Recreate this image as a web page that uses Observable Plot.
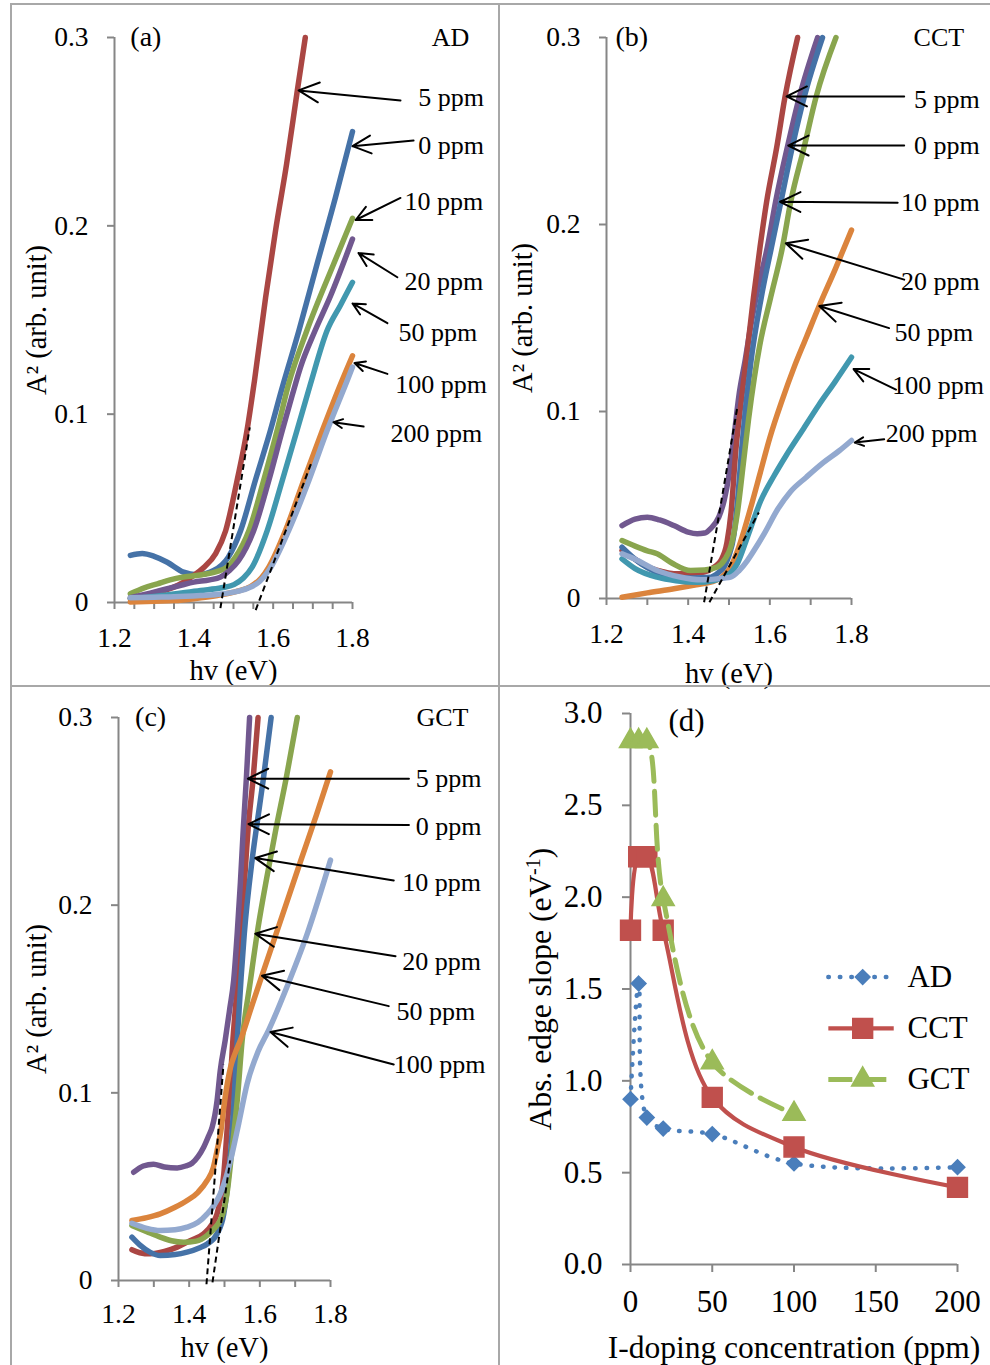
<!DOCTYPE html>
<html><head><meta charset="utf-8">
<script src="https://cdn.jsdelivr.net/npm/d3@7"></script>
<script src="https://cdn.jsdelivr.net/npm/@observablehq/plot@0.6"></script>
<style>
body{margin:0;background:#fff}
#fig{position:relative;width:990px;height:1365px;background:#fff;overflow:hidden}
#fig svg{position:absolute;overflow:visible}
.bl{position:absolute;background:#a8a8a8;z-index:5}
</style></head><body>
<div id="fig">
 <div class="bl" style="left:10px;top:3px;width:980px;height:2px"></div>
 <div class="bl" style="left:10px;top:3px;width:2px;height:1362px"></div>
 <div class="bl" style="left:498px;top:3px;width:2px;height:1362px"></div>
 <div class="bl" style="left:10px;top:685px;width:980px;height:2px"></div>
</div>
<script>
// ---------------- Panel (a) AD : [hv (eV), A^2] ----------------
const AD_0ppm   = [[1.24,.025],[1.27,.026],[1.30,.0245],[1.333,.0214],[1.374,.0161],[1.408,.0147],[1.45,.017],[1.487,.0241],[1.518,.0382],[1.555,.0648],[1.593,.0913],[1.62,.112],[1.665,.1444],[1.711,.180],[1.757,.215],[1.80,.250]];
const AD_5ppm   = [[1.24,.002],[1.28,.0035],[1.32,.006],[1.36,.0092],[1.392,.0133],[1.425,.0186],[1.455,.026],[1.48,.038],[1.509,.0648],[1.534,.0913],[1.553,.118],[1.581,.162],[1.606,.1975],[1.634,.233],[1.661,.272],[1.681,.300]];
const AD_10ppm  = [[1.24,.0046],[1.275,.0078],[1.308,.0099],[1.34,.012],[1.374,.0135],[1.42,.0147],[1.459,.0165],[1.485,.019],[1.505,.0241],[1.539,.0382],[1.576,.0648],[1.61,.0913],[1.639,.116],[1.685,.1444],[1.753,.180],[1.80,.204]];
const AD_20ppm  = [[1.24,.0025],[1.29,.005],[1.333,.0073],[1.37,.0093],[1.40,.0108],[1.44,.012],[1.467,.0135],[1.49,.017],[1.513,.0223],[1.551,.0382],[1.589,.0648],[1.623,.0913],[1.648,.110],[1.669,.125],[1.705,.144],[1.745,.163],[1.80,.193]];
const AD_50ppm  = [[1.24,.002],[1.32,.0037],[1.417,.0064],[1.47,.0078],[1.501,.0095],[1.525,.013],[1.547,.0188],[1.585,.0382],[1.623,.0648],[1.66,.0913],[1.694,.116],[1.736,.1444],[1.77,.158],[1.80,.170]];
const AD_100ppm = [[1.24,.0003],[1.30,.0007],[1.35,.001],[1.40,.002],[1.459,.0037],[1.51,.006],[1.543,.0085],[1.57,.013],[1.589,.0188],[1.631,.0382],[1.677,.0648],[1.724,.0913],[1.77,.116],[1.80,.131]];
const AD_200ppm = [[1.24,.0025],[1.30,.0028],[1.35,.003],[1.417,.0037],[1.47,.0045],[1.50,.0055],[1.535,.0075],[1.565,.011],[1.589,.017],[1.639,.0382],[1.69,.0648],[1.736,.0913],[1.787,.118],[1.80,.125]];
const AD_tangents = [[[1.467,-.003],[1.541,.093]],[[1.556,-.004],[1.696,.074]]];

// ---------------- Panel (b) CCT ----------------
const CCT_0ppm   = [[1.238,.039],[1.27,.0425],[1.30,.0435],[1.33,.042],[1.365,.039],[1.40,.0355],[1.422,.0346],[1.44,.035],[1.455,.0374],[1.475,.0435],[1.488,.0524],[1.50,.066],[1.512,.086],[1.524,.108],[1.54,.128],[1.555,.148],[1.57,.165],[1.594,.1879],[1.614,.212],[1.643,.2414],[1.672,.268],[1.717,.300]];
const CCT_5ppm   = [[1.238,.0257],[1.27,.021],[1.30,.017],[1.335,.0145],[1.365,.0132],[1.40,.0132],[1.439,.0141],[1.465,.017],[1.48,.0203],[1.495,.030],[1.505,.046],[1.517,.080],[1.528,.102],[1.541,.1255],[1.56,.161],[1.576,.1879],[1.592,.212],[1.617,.2414],[1.637,.268],[1.668,.300]];
const CCT_10ppm  = [[1.238,.0274],[1.27,.021],[1.30,.0165],[1.335,.013],[1.365,.0114],[1.41,.011],[1.455,.0114],[1.475,.014],[1.488,.0168],[1.50,.023],[1.512,.034],[1.522,.055],[1.531,.08],[1.553,.1255],[1.579,.161],[1.604,.1879],[1.627,.212],[1.655,.2414],[1.684,.268],[1.729,.300]];
const CCT_20ppm  = [[1.238,.031],[1.27,.028],[1.30,.0255],[1.324,.0239],[1.36,.019],[1.406,.015],[1.44,.0152],[1.471,.0168],[1.49,.021],[1.504,.0274],[1.52,.045],[1.535,.072],[1.548,.096],[1.562,.118],[1.575,.135],[1.602,.161],[1.631,.1879],[1.651,.212],[1.684,.2414],[1.713,.268],[1.762,.300]];
const CCT_50ppm  = [[1.238,.0007],[1.30,.003],[1.365,.0052],[1.42,.0073],[1.455,.0087],[1.48,.011],[1.504,.0168],[1.52,.025],[1.537,.0364],[1.555,.050],[1.575,.066],[1.60,.086],[1.63,.106],[1.66,.124],[1.69,.140],[1.72,.156],[1.76,.176],[1.80,.197]];
const CCT_100ppm = [[1.238,.0212],[1.27,.016],[1.324,.0114],[1.37,.0095],[1.422,.0087],[1.46,.0095],[1.488,.0114],[1.505,.014],[1.52,.0185],[1.545,.0328],[1.578,.0524],[1.61,.0655],[1.64,.0765],[1.68,.090],[1.72,.1035],[1.76,.116],[1.80,.129]];
const CCT_200ppm = [[1.238,.0239],[1.27,.021],[1.324,.015],[1.38,.0115],[1.431,.010],[1.47,.0105],[1.504,.0114],[1.525,.015],[1.545,.0203],[1.565,.027],[1.586,.0346],[1.62,.048],[1.65,.057],[1.69,.065],[1.73,.0725],[1.77,.079],[1.80,.0845]];
const CCT_tangents = [[[1.439,-.002],[1.521,.103]],[[1.452,-.002],[1.573,.046]]];

// ---------------- Panel (c) GCT ----------------
const GCT_0ppm   = [[1.238,.0164],[1.26,.0148],[1.29,.0142],[1.33,.0155],[1.366,.0178],[1.40,.021],[1.441,.0249],[1.465,.030],[1.479,.0355],[1.49,.045],[1.498,.0568],[1.505,.074],[1.512,.0923],[1.523,.1261],[1.538,.1616],[1.547,.1847],[1.568,.2433],[1.581,.2673],[1.595,.300]];
const GCT_5ppm   = [[1.243,.0577],[1.27,.061],[1.299,.062],[1.33,.0605],[1.366,.060],[1.39,.061],[1.408,.0625],[1.425,.066],[1.441,.071],[1.455,.077],[1.465,.0817],[1.479,.0959],[1.488,.1119],[1.502,.128],[1.515,.145],[1.526,.160],[1.536,.185],[1.545,.212],[1.553,.240],[1.562,.268],[1.571,.300]];
const GCT_10ppm  = [[1.238,.0231],[1.26,.019],[1.29,.015],[1.318,.0133],[1.36,.0138],[1.394,.0151],[1.43,.0175],[1.451,.0195],[1.479,.0249],[1.498,.0355],[1.512,.0568],[1.52,.075],[1.526,.0923],[1.536,.1279],[1.547,.1616],[1.556,.1847],[1.578,.2238],[1.592,.2433],[1.61,.2673],[1.632,.300]];
const GCT_20ppm  = [[1.238,.0293],[1.28,.026],[1.318,.0231],[1.35,.0212],[1.384,.0204],[1.42,.021],[1.451,.024],[1.475,.0285],[1.488,.032],[1.50,.039],[1.507,.0462],[1.521,.0693],[1.536,.0959],[1.55,.128],[1.572,.158],[1.595,.188],[1.62,.215],[1.645,.240],[1.675,.268],[1.706,.300]];
const GCT_50ppm  = [[1.238,.032],[1.28,.0335],[1.318,.0355],[1.36,.039],[1.394,.0426],[1.425,.047],[1.451,.0533],[1.468,.060],[1.479,.0693],[1.49,.080],[1.498,.0923],[1.508,.105],[1.517,.1136],[1.53,.121],[1.547,.129],[1.575,.145],[1.606,.1625],[1.646,.1847],[1.716,.2238],[1.76,.248],[1.80,.271]];
const GCT_100ppm = [[1.238,.0305],[1.28,.0278],[1.318,.0266],[1.36,.027],[1.394,.0284],[1.425,.031],[1.451,.0355],[1.47,.040],[1.488,.0462],[1.503,.054],[1.517,.0639],[1.54,.0835],[1.564,.1048],[1.595,.122],[1.625,.1334],[1.68,.158],[1.734,.1847],[1.80,.224]];
const GCT_tangents = [[[1.449,-.002],[1.497,.115]],[[1.466,-.001],[1.516,.064]]];

// ---------------- Panel (d) edge slope vs I-doping ----------------
const ppm       = [0, 5, 10, 20, 50, 100, 200];
const slopeAD   = [0.90, 1.53, 0.80, 0.74, 0.71, 0.55, 0.53];
const slopeCCT  = [1.82, 2.22, 2.22, 1.82, 0.91, 0.64, 0.42];
const ppmGCT    = [0, 5, 10, 20, 50, 100];
const slopeGCT  = [2.85, 2.85, 2.85, 1.99, 1.10, 0.82];

// ---------------- ticks ----------------
const yTicksA2   = [0, 0.1, 0.2, 0.3];
const xTicksFine = [1.2,1.25,1.3,1.35,1.4,1.45,1.5,1.55,1.6,1.65,1.7,1.75,1.8];
const xTicksTen  = [1.2,1.3,1.4,1.5,1.6,1.7,1.8];
const xTickLabels= [1.2,1.4,1.6,1.8];
const dTicksX    = [0, 50, 100, 150, 200];
const dTicksY    = [0, 0.5, 1.0, 1.5, 2.0, 2.5, 3.0];

// ---------------- annotations (data coordinates) ----------------
const notesA = [
 {label:"5 ppm",   tx:1.966, ty:.2681, x1:1.921, y1:.2666, x2:1.664, y2:.2719},
 {label:"0 ppm",   tx:1.966, ty:.2427, x1:1.954, y1:.2453, x2:1.800, y2:.2423},
 {label:"10 ppm",  tx:1.931, ty:.2129, x1:1.921, y1:.2148, x2:1.808, y2:.2031},
 {label:"20 ppm",  tx:1.931, ty:.1705, x1:1.913, y1:.1727, x2:1.815, y2:.1856},
 {label:"50 ppm",  tx:1.916, ty:.1434, x1:1.888, y1:.1483, x2:1.800, y2:.1588},
 {label:"100 ppm", tx:1.908, ty:.1158, x1:1.888, y1:.1214, x2:1.805, y2:.1272},
 {label:"200 ppm", tx:1.896, ty:.0897, x1:1.828, y1:.0934, x2:1.752, y2:.0957}
];
const notesB = [
 {label:"5 ppm",   tx:1.953, ty:.2668, x1:1.929, y1:.2685, x2:1.641, y2:.2685},
 {label:"0 ppm",   tx:1.953, ty:.2422, x1:1.929, y1:.2422, x2:1.645, y2:.2422},
 {label:"10 ppm",  tx:1.921, ty:.2116, x1:1.913, y1:.2116, x2:1.625, y2:.2121},
 {label:"20 ppm",  tx:1.921, ty:.1693, x1:1.929, y1:.1705, x2:1.639, y2:.1900},
 {label:"50 ppm",  tx:1.905, ty:.1422, x1:1.892, y1:.1446, x2:1.721, y2:.1564},
 {label:"100 ppm", tx:1.900, ty:.1140, x1:1.909, y1:.1117, x2:1.805, y2:.1227},
 {label:"200 ppm", tx:1.884, ty:.0881, x1:1.880, y1:.0851, x2:1.808, y2:.0834}
];
const notesC = [
 {label:"5 ppm",   tx:2.041, ty:.2674, x1:2.022, y1:.2674, x2:1.566, y2:.2674},
 {label:"0 ppm",   tx:2.041, ty:.2420, x1:2.022, y1:.2427, x2:1.568, y2:.2432},
 {label:"10 ppm",  tx:2.003, ty:.2120, x1:1.979, y1:.2132, x2:1.587, y2:.2251},
 {label:"20 ppm",  tx:2.003, ty:.1698, x1:1.984, y1:.1728, x2:1.587, y2:.1848},
 {label:"50 ppm",  tx:1.987, ty:.1435, x1:1.965, y1:.1462, x2:1.606, y2:.1624},
 {label:"100 ppm", tx:1.979, ty:.1151, x1:1.979, y1:.1151, x2:1.630, y2:.1324}
];
const legendD = [{name:"AD", y:1.565}, {name:"CCT", y:1.286}, {name:"GCT", y:1.007}];

// ---------------- styles ----------------
const AXIS = "#868686";
const FONT = "Liberation Serif, Times New Roman, serif";
const C = {blue:"#4572A7", red:"#AA4643", green:"#89A54E", purple:"#71588F", teal:"#4198AF", orange:"#DB843D", lblue:"#93A9CF"};
const D = {AD:"#4A7EBB", CCT:"#C0504D", GCT:"#9BBB59"};
const TXT = {fill: "black", fontFamily: FONT};

function spectrumPanel(cfg) {
  const marks = [
    Plot.ruleY([0], {stroke: AXIS, strokeWidth: 2}),
    Plot.ruleX([1.2], {stroke: AXIS, strokeWidth: 2}),
    Plot.axisX({ticks: cfg.xTicks, tickFormat: d => xTickLabels.includes(d) ? d.toFixed(1) : "", tickSize: 7, tickPadding: cfg.xPad, fontSize: 27.5, stroke: AXIS, strokeWidth: 2, label: null, ...TXT}),
    Plot.axisY({ticks: yTicksA2, tickFormat: d => d === 0 ? "0" : d.toFixed(1), tickSize: 7, tickPadding: 19, fontSize: 27.5, stroke: AXIS, strokeWidth: 2, label: null, ...TXT}),
    ...cfg.series.map(s => Plot.line(s.data, {x: d => d[0], y: d => d[1], stroke: s.color, strokeWidth: 5.5, curve: "monotone-x", strokeLinecap: "round", strokeLinejoin: "round"})),
    Plot.link(cfg.tangents, {x1: d => d[0][0], y1: d => d[0][1], x2: d => d[1][0], y2: d => d[1][1], stroke: "black", strokeWidth: 2, strokeDasharray: "6,4"}),
    Plot.arrow(cfg.notes, {x1: "x1", y1: "y1", x2: "x2", y2: "y2", stroke: "black", strokeWidth: 2, headLength: 17, headAngle: 52}),
    Plot.text(cfg.notes, {x: "tx", y: "ty", text: "label", textAnchor: "start", lineAnchor: "middle", fontSize: 26, ...TXT}),
    Plot.text([cfg.tag], {x: cfg.tagX, y: 0.3, text: d => d, textAnchor: "start", lineAnchor: "middle", fontSize: 28, ...TXT}),
    Plot.text([cfg.group], {x: cfg.groupX, y: 0.3, text: d => d, textAnchor: "middle", lineAnchor: "middle", fontSize: 26, ...TXT}),
    Plot.text(["hv (eV)"], {text: d => d, frameAnchor: "bottom", textAnchor: "middle", lineAnchor: "middle", dy: cfg.xLabelDy, fontSize: 28.5, ...TXT}),
    Plot.text(["A\u00B2 (arb. unit)"], {text: d => d, frameAnchor: "left", textAnchor: "middle", lineAnchor: "middle", dx: cfg.yLabelDx, rotate: -90, fontSize: 28.5, ...TXT})
  ];
  const svg = Plot.plot({
    width: cfg.width, height: cfg.height,
    marginLeft: cfg.m[0], marginRight: cfg.m[1], marginTop: cfg.m[2], marginBottom: cfg.m[3],
    x: {domain: [1.2, 1.8], axis: null},
    y: {domain: [0, 0.3], axis: null},
    style: {fontFamily: FONT, background: "transparent", color: "black"},
    marks
  });
  svg.style.left = cfg.left + "px"; svg.style.top = cfg.top + "px";
  return svg;
}

const fig = document.getElementById("fig");

fig.appendChild(spectrumPanel({
  width: 499, height: 686, left: 0, top: 0, m: [114, 147, 37, 84],
  xTicks: xTicksFine, xPad: 17.5, xLabelDy: 68, yLabelDx: -78,
  tag: "(a)", tagX: 1.24, group: "AD", groupX: 2.047, notes: notesA, tangents: AD_tangents,
  series: [
    {data: AD_0ppm, color: C.blue}, {data: AD_5ppm, color: C.red}, {data: AD_10ppm, color: C.green},
    {data: AD_20ppm, color: C.purple}, {data: AD_50ppm, color: C.teal}, {data: AD_100ppm, color: C.orange},
    {data: AD_200ppm, color: C.lblue}
  ]
}));

fig.appendChild(spectrumPanel({
  width: 491, height: 686, left: 499, top: 0, m: [107, 139, 37, 88],
  xTicks: xTicksTen, xPad: 17.5, xLabelDy: 75, yLabelDx: -83.5,
  tag: "(b)", tagX: 1.222, group: "CCT", groupX: 2.014, notes: notesB, tangents: CCT_tangents,
  series: [
    {data: CCT_0ppm, color: C.purple}, {data: CCT_5ppm, color: C.red}, {data: CCT_10ppm, color: C.blue},
    {data: CCT_20ppm, color: C.green}, {data: CCT_50ppm, color: C.orange}, {data: CCT_100ppm, color: C.teal},
    {data: CCT_200ppm, color: C.lblue}
  ]
}));

fig.appendChild(spectrumPanel({
  width: 499, height: 679, left: 0, top: 686, m: [118, 169, 31, 85],
  xTicks: xTicksTen, xPad: 16, xLabelDy: 67.6, yLabelDx: -82,
  tag: "(c)", tagX: 1.247, group: "GCT", groupX: 2.117, notes: notesC, tangents: GCT_tangents,
  series: [
    {data: GCT_0ppm, color: C.red}, {data: GCT_5ppm, color: C.purple}, {data: GCT_10ppm, color: C.blue},
    {data: GCT_20ppm, color: C.green}, {data: GCT_50ppm, color: C.orange}, {data: GCT_100ppm, color: C.lblue}
  ]
}));

// ---------------- panel (d) ----------------
const rowsAD  = ppm.map((x, i) => ({x, y: slopeAD[i]}));
const rowsCCT = ppm.map((x, i) => ({x, y: slopeCCT[i]}));
const rowsGCT = ppmGCT.map((x, i) => ({x, y: slopeGCT[i]}));
const styleD = {
  AD:  {stroke: D.AD,  strokeWidth: 4.5, strokeDasharray: "0.5,11", strokeLinecap: "round"},
  CCT: {stroke: D.CCT, strokeWidth: 4.2},
  GCT: {stroke: D.GCT, strokeWidth: 5, strokeDasharray: "24,10"}
};
const symD = {AD: ["diamond2", 6.6], CCT: ["square", 11.2], GCT: ["triangle", 8.2]};

const svgD = Plot.plot({
  width: 491, height: 679, marginLeft: 131, marginRight: 33, marginTop: 27, marginBottom: 101,
  x: {domain: [0, 200], axis: null},
  y: {domain: [0, 3], axis: null},
  style: {fontFamily: FONT, background: "transparent", color: "black"},
  marks: [
    Plot.ruleY([0], {stroke: AXIS, strokeWidth: 2}),
    Plot.ruleX([0], {stroke: AXIS, strokeWidth: 2}),
    Plot.axisX({ticks: dTicksX, tickSize: 8, tickPadding: 17, fontSize: 31, stroke: AXIS, strokeWidth: 2, label: null, ...TXT}),
    Plot.axisY({ticks: dTicksY, tickFormat: d => d.toFixed(1), tickSize: 8, tickPadding: 20, fontSize: 31, stroke: AXIS, strokeWidth: 2, label: null, ...TXT}),
    Plot.line(rowsAD,  {x: "x", y: "y", curve: "catmull-rom", ...styleD.AD}),
    Plot.dot(rowsAD,   {x: "x", y: "y", symbol: symD.AD[0], r: symD.AD[1], fill: D.AD, stroke: D.AD}),
    Plot.line(rowsCCT, {x: "x", y: "y", curve: "catmull-rom", ...styleD.CCT}),
    Plot.dot(rowsCCT,  {x: "x", y: "y", symbol: symD.CCT[0], r: symD.CCT[1], fill: D.CCT, stroke: D.CCT}),
    Plot.line(rowsGCT, {x: "x", y: "y", curve: "catmull-rom", ...styleD.GCT}),
    Plot.dot(rowsGCT,  {x: "x", y: "y", symbol: symD.GCT[0], r: symD.GCT[1], fill: D.GCT, stroke: D.GCT}),
    // legend
    ...legendD.map(r => Plot.link([r], {x1: 121, x2: 161, y1: "y", y2: "y", ...styleD[r.name]})),
    ...legendD.map(r => Plot.dot([r], {x: 142, y: "y", symbol: symD[r.name][0], r: symD[r.name][1], fill: D[r.name], stroke: D[r.name]})),
    Plot.text(legendD, {x: 169.4, y: "y", text: "name", textAnchor: "start", lineAnchor: "middle", fontSize: 31, ...TXT}),
    Plot.text(["(d)"], {x: 23.2, y: 2.96, text: d => d, textAnchor: "start", lineAnchor: "middle", fontSize: 31, ...TXT}),
    Plot.text(["I-doping concentration (ppm)"], {text: d => d, frameAnchor: "bottom", textAnchor: "middle", lineAnchor: "middle", dy: 83, fontSize: 31.5, ...TXT}),
    Plot.text(["Abs. edge slope (eV-1)"], {text: d => d, frameAnchor: "left", textAnchor: "middle", lineAnchor: "middle", dx: -90, rotate: -90, fontSize: 31.5, ...TXT})
  ]
});
svgD.style.left = "499px"; svgD.style.top = "686px";
fig.appendChild(svgD);

// superscript "-1" in the y label of panel (d)
d3.select(svgD).selectAll("text").filter(function(){ return this.textContent === "Abs. edge slope (eV-1)"; })
  .each(function(){
    const t = d3.select(this);
    t.text(null);
    t.append("tspan").text("Abs. edge slope (eV");
    t.append("tspan").attr("font-size", "20px").attr("dy", "-11").text("-1");
    t.append("tspan").attr("dy", "11").text(")");
  });
</script>
</body></html>
